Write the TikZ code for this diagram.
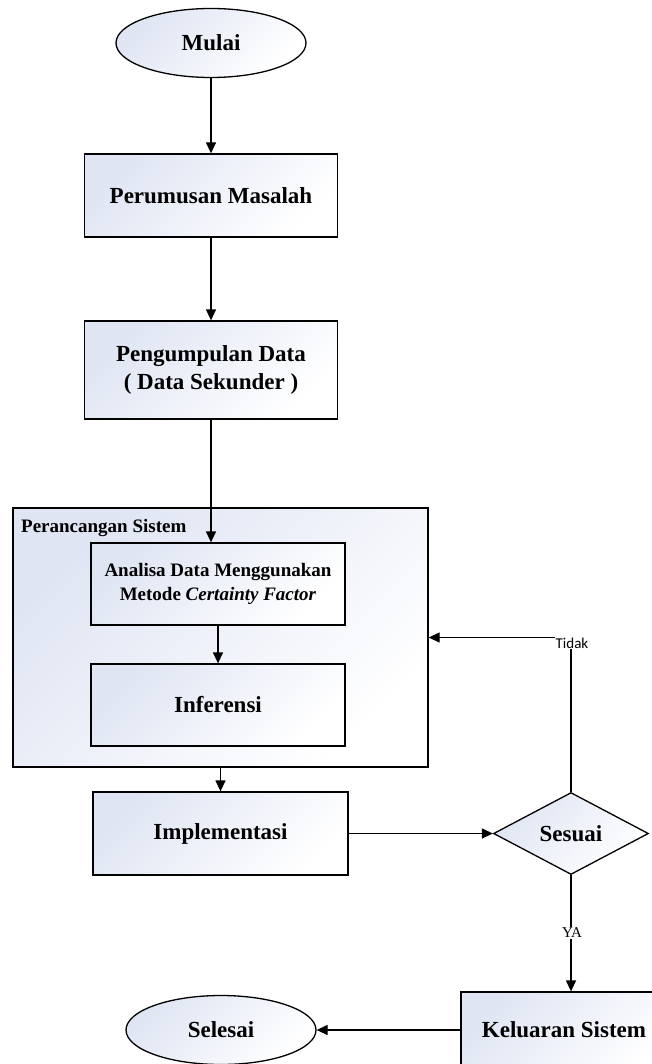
\documentclass[tikz,border=0pt]{standalone}
\usepackage{fontspec}
\setmainfont{Liberation Serif}
\newfontfamily\tidakfont{Carlito}
\usetikzlibrary{shapes.geometric,arrows.meta}
\definecolor{gradc}{HTML}{DFE5F3}
\tikzset{
  shadefill/.style={top color=gradc, bottom color=white, shading angle=45},
  procbox/.style={draw, line width=1.3pt, shadefill, rectangle, inner sep=0pt, align=center, font=\fontsize{23}{28}\selectfont\bfseries},
  termin/.style={draw, line width=1.3pt, shadefill, ellipse, inner sep=0pt, minimum width=190pt, minimum height=69pt, font=\fontsize{23}{28}\selectfont\bfseries},
  decision/.style={draw, line width=1.3pt, shadefill, diamond, inner sep=0pt, minimum width=155pt, minimum height=82pt, font=\fontsize{23}{28}\selectfont\bfseries},
  arr/.style={line width=1.3pt, -{Triangle[length=11pt,width=10pt]}},
  conn/.style={line width=1.3pt}
}
\begin{document}
\begin{tikzpicture}[x=1pt,y=-1pt]
\useasboundingbox (0,0) rectangle (652,1064);
\clip (0,0) rectangle (652,1064);
\node[termin] (mulai) at (211,43) {Mulai};
\node[procbox, minimum width=253pt, minimum height=83pt] (per) at (211,195.5) {Perumusan Masalah};
\node[procbox, minimum width=253pt, minimum height=98pt] (peng) at (211,370) {Pengumpulan Data\\( Data Sekunder )};
\node[draw, line width=1.3pt, shadefill, rectangle, inner sep=0pt, minimum width=415pt, minimum height=259pt] (pr) at (220.5,637.5) {};
\node[anchor=west, inner sep=0pt, font=\fontsize{19}{22}\selectfont\bfseries] (prlabel) at (21,528) {Perancangan Sistem};
\node[procbox, minimum width=254pt, minimum height=82pt, font=\fontsize{19}{24}\selectfont\bfseries] (ana) at (218,584) {Analisa Data Menggunakan\\Metode \textit{Certainty Factor}};
\node[procbox, minimum width=254pt, minimum height=82pt] (inf) at (218,705) {Inferensi};
\node[procbox, minimum width=255pt, minimum height=83pt] (imp) at (220.5,833.5) {Implementasi};
\node[decision] (ses) at (571,833.5) {Sesuai};
\node[procbox, minimum width=220pt, minimum height=76pt] (kel) at (571,1030) {\hspace*{-14pt}Keluaran Sistem};
\node[termin] (sel) at (221,1030) {Selesai};

\draw[arr] (mulai.south) -- (per.north);
\draw[arr] (per.south) -- (peng.north);
\draw[arr] (peng.south) -- (peng.south |- ana.north);
\draw[arr] (ana.south) -- (ana.south |- inf.north);
\draw[arr] (pr.south) -- (pr.south |- imp.north);
\draw[arr] (imp.east) -- (ses.west);
\draw[arr] (ses.north) |- (pr.east);
\node[fill=white, inner sep=1pt, font=\tidakfont\fontsize{15}{16}\selectfont] (tidak) at (572,643) {Tidak};
\draw[arr] (ses.south) -- (ses.south |- kel.north);
\node[fill=white, inner sep=1pt, font=\fontsize{15}{16}\selectfont] (ya) at (572,933) {YA};
\draw[arr] (kel.west) -- (sel.east);
\end{tikzpicture}
\end{document}
